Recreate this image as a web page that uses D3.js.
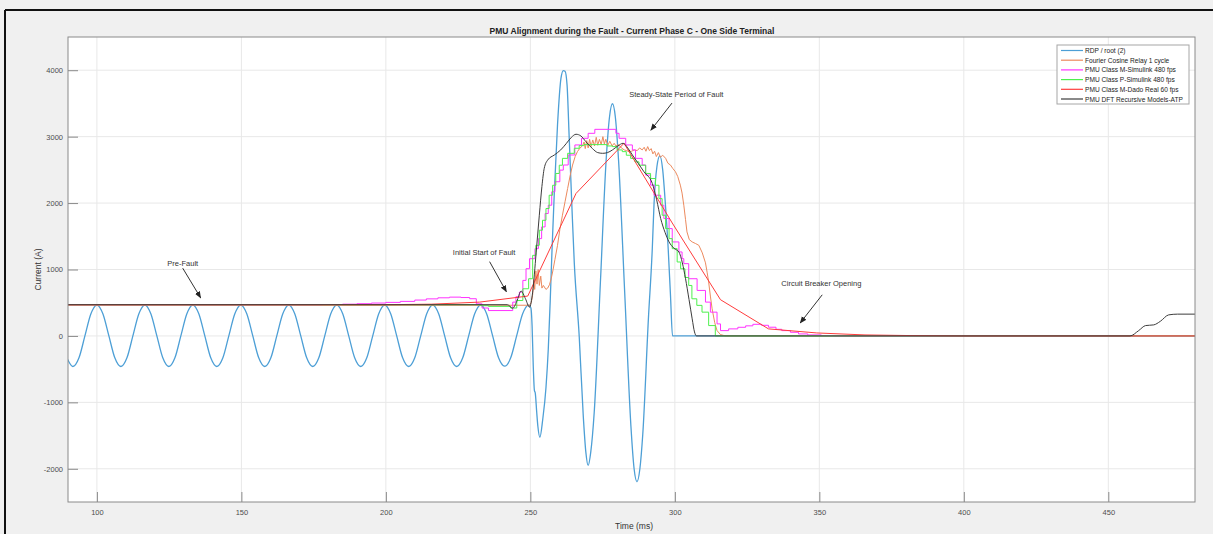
<!DOCTYPE html>
<html>
<head>
<meta charset="utf-8">
<script src="https://cdn.jsdelivr.net/npm/d3@7"></script>
<style>
  body { margin: 0; background: #f0f0f0; }
  svg { display: block; font-family: "Liberation Sans", Arial, sans-serif; }
</style>
</head>
<body>
<div id="chart"></div>
<script>
// ---- data (time in ms, current in A) ----
const xTicks = [100, 150, 200, 250, 300, 350, 400, 450];
const yTicks = [-2000, -1000, 0, 1000, 2000, 3000, 4000];

const seriesNames = [
  'RDP / root (2)',
  'Fourier Cosine Relay 1 cycle',
  'PMU Class M-Simulink 480 fps',
  'PMU Class P-Simulink 480 fps',
  'PMU Class M-Dado Real 60 fps',
  'PMU DFT Recursive Models-ATP'
];

// raw waveform
const rdp = [
  [89.6,-330],[91.7,-460],
  [93.8,-330],[95.85,0],[97.9,330],[100,465],[102.1,330],[104.15,0],[106.2,-330],[108.3,-460],
  [110.4,-330],[112.45,0],[114.5,330],[116.6,465],[118.7,330],[120.75,0],[122.8,-330],[124.9,-460],
  [127.0,-330],[129.05,0],[131.1,330],[133.2,465],[135.3,330],[137.35,0],[139.4,-330],[141.5,-460],
  [143.6,-330],[145.65,0],[147.7,330],[149.8,465],[151.9,330],[153.95,0],[156.0,-330],[158.1,-460],
  [160.2,-330],[162.25,0],[164.3,330],[166.4,465],[168.5,330],[170.55,0],[172.6,-330],[174.7,-460],
  [176.8,-330],[178.85,0],[180.9,330],[183.0,465],[185.1,330],[187.15,0],[189.2,-330],[191.3,-460],
  [193.4,-330],[195.45,0],[197.5,330],[199.6,465],[201.7,330],[203.75,0],[205.8,-330],[207.9,-460],
  [210.0,-330],[212.05,0],[214.1,330],[216.2,465],[218.3,330],[220.35,0],[222.4,-330],[224.5,-460],
  [226.6,-330],[228.65,0],[230.7,330],[232.8,465],[234.9,330],[236.95,0],[239.0,-330],[241.1,-455],
  [243.2,-330],[245.25,0],[247.3,330],[249.4,465],
  [250.2,420],[250.6,150],[251.0,-450],[251.4,-820],[251.7,-860],[252.2,-1150],[252.6,-1360],
  [253.3,-1525],[254.3,-1250],[255.4,-780],[256.2,-200],[256.9,560],[257.5,1300],[258.3,2170],
  [259.4,3180],[260.6,3880],[261.4,3995],[262.0,3985],[262.7,3780],[263.4,3030],[264.4,1920],
  [265.2,1100],[266.9,0],[268.3,-1200],[269.2,-1750],[270.0,-1950],[270.9,-1750],
  [272.1,-1150],[274.2,770],[276.3,2700],[277.4,3300],[278.4,3495],[279.4,3300],
  [280.5,2660],[282.65,650],[284.8,-1360],[285.9,-2000],[286.9,-2195],[287.9,-2000],
  [288.9,-1480],[290.85,260],[292.2,1320],[292.8,1990],[293.8,2550],[294.8,2710],[295.8,2500],
  [296.7,2000],[297.7,1310],[298.5,600],[299.2,0],[480,0]
];

const fourier = [
  [90,462],[249.7,462],[250.3,500],[250.8,620],[251.2,860],[251.5,700],[251.9,980],[252.3,780],
  [252.7,1000],[253.1,760],[253.6,900],[254.0,720],[254.5,760],[255.4,700],[256.0,720],[256.6,770],
  [257.2,860],[257.7,962],[258.5,1150],[259.4,1364],[260.2,1600],[261.1,1817],[262.0,2020],
  [262.9,2220],[263.8,2420],[264.6,2572],[265.5,2700],[266.3,2775],[267.2,2830],[268.0,2860],
  [268.6,2920],[269.0,2820],[269.5,2940],[270.0,2830],[270.5,2960],[271.0,2850],[271.6,2950],
  [272.2,2860],[272.8,2990],[273.3,2870],[273.9,2960],[274.5,2880],[275.1,3000],[275.6,2890],
  [276.1,2960],[276.8,2870],[277.5,2930],[278.3,2860],[279.0,2900],[279.6,2860],[280.5,2880],
  [281.5,2830],[282.5,2800],[283.3,2790],[284.1,2775],[285.0,2780],[286.0,2800],[287.0,2790],
  [287.8,2830],[288.7,2800],[289.4,2840],[290.0,2780],[290.6,2850],[291.2,2790],[291.8,2820],
  [292.4,2740],[293.0,2780],[293.6,2700],[294.3,2760],[295.0,2690],[295.8,2720],[296.8,2674],
  [297.6,2600],[298.5,2572],[299.3,2520],[300.2,2472],[301.0,2400],[301.9,2270],[302.5,2150],
  [303.1,1968],[303.7,1750],[304.2,1566],[305.0,1450],[306.0,1415],[307.2,1390],[308.3,1364],
  [309.5,1250],[310.6,1100],[311.2,950],[311.7,811],[312.3,600],[312.9,408],[313.8,200],
  [314.6,80],[315.8,20],[317.5,0],[480,0]
];

// step outputs, value holds until the next report
const classM = [
  [90,470],[178,472],[185,478],[190,485],[195,495],[200,505],[205,520],[210,540],[214,558],
  [218,574],[222,584],[226,578],[229,560],[231.3,483],[233.3,420],[235.5,382],[243.9,509],
  [245.0,590],[246.2,660],[247.4,836],[248.5,1012],[249.7,1163],[251.6,1314],[252.8,1465],
  [253.9,1641],[255.1,1843],[256.2,1968],[257.4,2170],[258.5,2321],[260.2,2496],[261.4,2573],
  [263.1,2724],[265.4,2875],[267.7,2975],[270.0,3050],[272.3,3110],[279.6,3050],[280.7,2975],
  [283.0,2875],[285.3,2800],[286.4,2673],[288.7,2573],[289.9,2421],[291.6,2270],[292.8,2118],
  [295.1,1968],[296.2,1767],[298.0,1616],[299.1,1415],[301.4,1264],[302.5,1163],[303.1,1088],
  [304.8,861],[307.7,685],[310.6,509],[312.3,358],[314.6,181],[315.8,80],[318.6,106],
  [321.8,130],[324.5,152],[327.0,175],[330.0,160],[332.4,131],[335.0,100],[337.0,80],
  [340.0,55],[342.8,30],[346.0,15],[350.7,5],[355.0,0],[480,0]
];

const classP = [
  [90,470],[233,455],[235.5,445],[243.2,420],[245.3,533],[247.4,710],[249.4,861],[250.8,1213],
  [251.9,1364],[253.1,1592],[254.2,1741],[255.4,1918],[256.5,2118],[257.7,2268],[258.8,2446],
  [260.0,2570],[261.1,2673],[262.9,2749],[265.2,2825],[266.9,2865],[268.5,2880],[276.5,2860],
  [278.4,2850],[280.0,2800],[281.8,2774],[283.2,2720],[284.7,2673],[286.2,2620],[287.6,2570],
  [289.9,2446],[291.6,2370],[293.3,2268],[294.5,2067],[295.6,1817],[296.8,1616],[298.0,1465],
  [299.1,1314],[300.8,1113],[302.0,1011],[303.5,880],[304.8,760],[305.9,559],[307.6,460],
  [309.4,358],[311.7,156],[314.0,0],[480,0]
];

const dado = [
  [90,470],[199.1,470],[215.7,478],[232.4,509],[249.1,600],[265.8,2145],[282.4,2900],
  [299.1,1700],[315.8,545],[332.4,106],[349.1,45],[365.8,15],[382.4,5],[399.1,0],[480,0]
];

const dft = [
  [90,470],[242.0,470],[243.9,418],[245.3,520],[246.8,675],[248.3,560],[249.7,433],[250.8,660],
  [252.0,1250],[253.1,1817],[254.0,2250],[254.8,2523],[256.0,2648],[258.3,2724],[260.5,2800],
  [262.5,2900],[264.2,2990],[265.8,3036],[267.5,3010],[269.2,2925],[271.5,2820],[273.3,2760],
  [275.0,2749],[276.7,2760],[278.4,2800],[280.3,2860],[282.1,2900],[283.7,2830],[285.3,2724],
  [287.3,2600],[289.3,2472],[292.2,2296],[293.7,2050],[295.1,1767],[296.6,1560],[298.0,1415],
  [299.7,1320],[301.4,1264],[302.6,1100],[303.7,861],[304.9,550],[306.0,257],[306.8,60],
  [307.5,0],[457.5,0],[460.5,80],[462.9,156],[465.7,166],[468.0,220],[470.9,317],[474.0,328],
  [480,328]
];

const annotations = [
  { text: 'Pre-Fault', at: [129.7, 1100], from: [129.7, 1020], to: [135.9, 574] },
  { text: 'Initial Start of Fault', at: [234, 1270], from: [235.9, 1118], to: [241.7, 665] },
  { text: 'Steady-State Period of Fault', at: [300.5, 3640], from: [299, 3505], to: [291.7, 3097] },
  { text: 'Circuit Breaker Opening', at: [350.7, 800], from: [351, 619], to: [343.4, 196] }
];

// ---- layout ----
const W = 1213, H = 534;
const plot = { left: 68, top: 37, right: 1195, bottom: 502 };

const svg = d3.select('#chart').append('svg')
  .attr('width', W).attr('height', H);

svg.append('rect').attr('width', W).attr('height', H).attr('fill', '#f0f0f0');
// figure frame (left + top edge visible)
svg.append('line').attr('x1', 5).attr('y1', 10).attr('x2', W).attr('y2', 10)
  .attr('stroke', '#111').attr('stroke-width', 2);
svg.append('line').attr('x1', 5).attr('y1', 10).attr('x2', 5).attr('y2', H)
  .attr('stroke', '#111').attr('stroke-width', 2);

const x = d3.scaleLinear().domain([90, 480]).range([plot.left, plot.right]);
const y = d3.scaleLinear().domain([-2500, 4500]).range([plot.bottom, plot.top]);

svg.append('rect')
  .attr('x', plot.left).attr('y', plot.top)
  .attr('width', plot.right - plot.left).attr('height', plot.bottom - plot.top)
  .attr('fill', '#fff');

// grid
svg.append('g').selectAll('line').data(xTicks).join('line')
  .attr('x1', d => x(d)).attr('x2', d => x(d))
  .attr('y1', plot.top).attr('y2', plot.bottom)
  .attr('stroke', '#e8e8e8').attr('stroke-width', 1);
svg.append('g').selectAll('line').data(yTicks).join('line')
  .attr('x1', plot.left).attr('x2', plot.right)
  .attr('y1', d => y(d)).attr('y2', d => y(d))
  .attr('stroke', '#e8e8e8').attr('stroke-width', 1);

svg.append('defs').append('clipPath').attr('id', 'clip')
  .append('rect')
  .attr('x', plot.left).attr('y', plot.top)
  .attr('width', plot.right - plot.left).attr('height', plot.bottom - plot.top);

const lines = svg.append('g').attr('clip-path', 'url(#clip)');

const smooth = d3.line().x(d => x(d[0])).y(d => y(d[1])).curve(d3.curveMonotoneX);
const straight = d3.line().x(d => x(d[0])).y(d => y(d[1]));
const stepped = d3.line().x(d => x(d[0])).y(d => y(d[1])).curve(d3.curveStepAfter);

const colors = ['#4d9fd6', '#ec8a5e', '#ff33ff', '#4df04d', '#ff3c3c', '#3c3c3c'];

const drawOrder = [
  { data: rdp, gen: smooth, c: 0, w: 1.3 },
  { data: fourier, gen: straight, c: 1, w: 1 },
  { data: classM, gen: stepped, c: 2, w: 1 },
  { data: classP, gen: stepped, c: 3, w: 1 },
  { data: dado, gen: straight, c: 4, w: 1 },
  { data: dft, gen: smooth, c: 5, w: 1 }
];

drawOrder.forEach(s => {
  lines.append('path')
    .datum(s.data)
    .attr('fill', 'none')
    .attr('stroke', colors[s.c])
    .attr('stroke-width', s.w)
    .attr('stroke-linejoin', 'round')
    .attr('d', s.gen);
});

// axes box
svg.append('rect')
  .attr('x', plot.left).attr('y', plot.top)
  .attr('width', plot.right - plot.left).attr('height', plot.bottom - plot.top)
  .attr('fill', 'none').attr('stroke', '#8a8a8a').attr('stroke-width', 1);

// ticks (inside) via axes
const fmt = d => String(d);
const xAxis = svg.append('g')
  .attr('transform', `translate(0,${plot.bottom})`)
  .call(d3.axisBottom(x).tickValues(xTicks).tickFormat(fmt).tickSizeInner(-10).tickSizeOuter(0).tickPadding(8));
const yAxis = svg.append('g')
  .attr('transform', `translate(${plot.left},0)`)
  .call(d3.axisLeft(y).tickValues(yTicks).tickFormat(fmt).tickSizeInner(-10).tickSizeOuter(0).tickPadding(5));
[xAxis, yAxis].forEach(a => {
  a.select('.domain').remove();
  a.selectAll('line').attr('stroke', '#8a8a8a');
  a.selectAll('text').attr('fill', '#4d4d4d').style('font-size', '7.5px');
});

// labels
svg.append('text')
  .attr('x', 632).attr('y', 34)
  .attr('text-anchor', 'middle')
  .style('font-size', '8.5px').style('font-weight', 'bold').attr('fill', '#222')
  .text('PMU Alignment during the Fault - Current Phase C - One Side Terminal');

svg.append('text')
  .attr('x', 634).attr('y', 529)
  .attr('text-anchor', 'middle')
  .style('font-size', '8.5px').attr('fill', '#333')
  .text('Time (ms)');

svg.append('text')
  .attr('transform', `translate(41,${(plot.top + plot.bottom) / 2}) rotate(-90)`)
  .attr('text-anchor', 'middle')
  .style('font-size', '8.5px').attr('fill', '#333')
  .text('Current (A)');

// annotations
svg.select('defs').append('marker')
  .attr('id', 'head').attr('viewBox', '0 0 10 10')
  .attr('refX', 9).attr('refY', 5)
  .attr('markerWidth', 7).attr('markerHeight', 7)
  .attr('orient', 'auto')
  .append('path').attr('d', 'M0,1 L10,5 L0,9 Z').attr('fill', '#222');

annotations.forEach(a => {
  svg.append('text')
    .attr('x', x(a.at[0])).attr('y', y(a.at[1]) + 3)
    .attr('text-anchor', 'middle')
    .style('font-size', '7.5px').attr('fill', '#333')
    .text(a.text);
  svg.append('line')
    .attr('x1', x(a.from[0])).attr('y1', y(a.from[1]))
    .attr('x2', x(a.to[0])).attr('y2', y(a.to[1]))
    .attr('stroke', '#333').attr('stroke-width', 1)
    .attr('marker-end', 'url(#head)');
});

// legend
const lg = svg.append('g').attr('transform', 'translate(1057,45)');
lg.append('rect').attr('width', 132).attr('height', 59)
  .attr('fill', '#fff').attr('stroke', '#a6a6a6').attr('stroke-width', 1);
seriesNames.forEach((name, i) => {
  const row = lg.append('g').attr('transform', `translate(0,${5.5 + i * 9.7})`);
  row.append('line').attr('x1', 4).attr('x2', 26).attr('y1', 0).attr('y2', 0)
    .attr('stroke', colors[i]).attr('stroke-width', 1.2);
  row.append('text').attr('x', 28).attr('y', 2.5)
    .style('font-size', '6.6px').attr('fill', '#222')
    .text(name);
});
</script>
</body>
</html>
